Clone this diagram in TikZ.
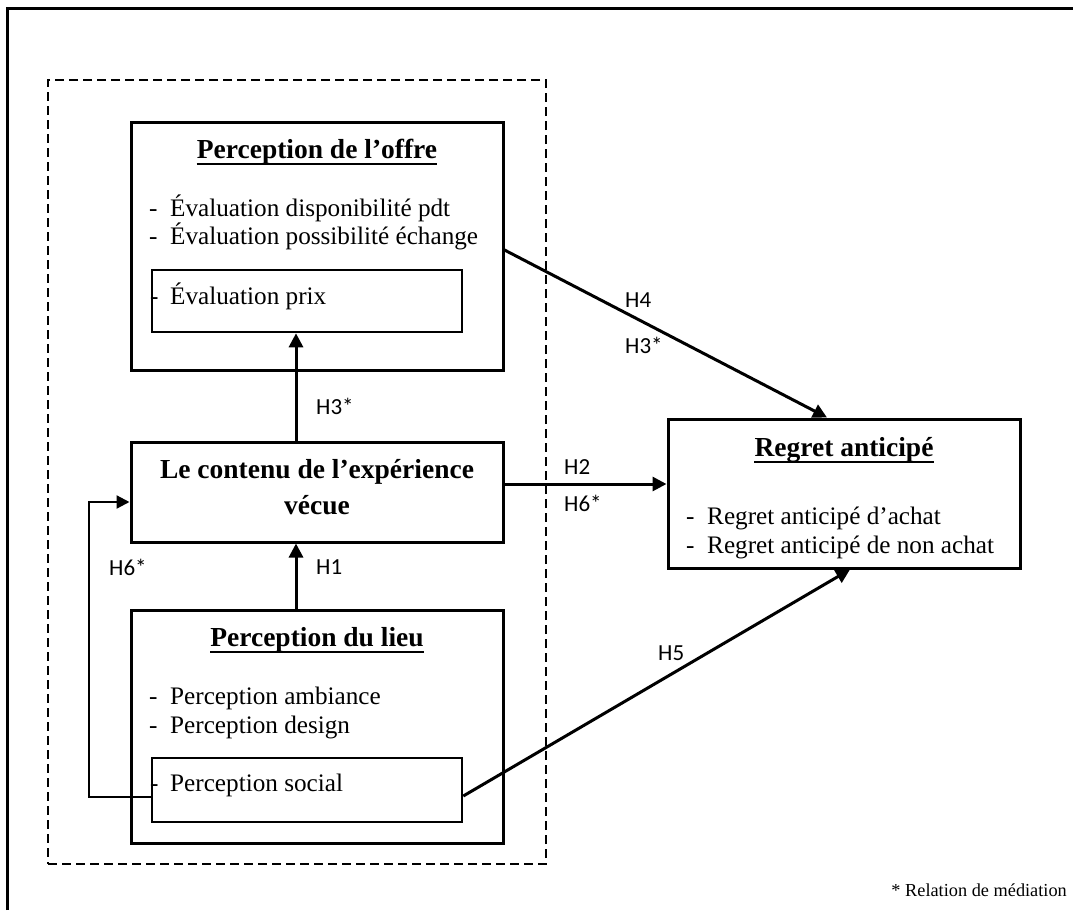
\documentclass[tikz,border=0pt]{standalone}
\usepackage{fontspec}
\setmainfont{Liberation Serif}
\newfontfamily\labfont{Carlito}
\usetikzlibrary{arrows.meta}
\begin{document}
\begin{tikzpicture}[x=1pt,y=-1pt,
  box/.style={draw, line width=3pt, inner sep=0pt},
  subbox/.style={draw, line width=2.6pt, inner sep=0pt},
  ttl/.style={font=\fontsize{27.5}{30}\selectfont\bfseries, anchor=base, inner sep=0pt},
  itm/.style={font=\fontsize{25.2}{28}\selectfont, anchor=base west, inner sep=0pt},
  hlab/.style={font=\labfont\fontsize{23}{26}\selectfont, anchor=west, inner sep=0pt},
  arr/.style={line width=3pt, -{Triangle[length=14pt,width=14pt]}},
  fbarr/.style={line width=2.3pt, -{Triangle[length=13pt,width=13pt]}},
  uline/.style={line width=2.2pt},
  grpbox/.style={draw, line width=2.4pt, dash pattern=on 9pt off 5pt, inner sep=0pt}
]
\useasboundingbox (0,0) rectangle (1073,910);
\fill[white] (0,0) rectangle (1073,910);
% outer frame (only left and top visible)
\draw[line width=3pt] (7,910) -- (7,8) -- (1073,8);
% dashed group
\node[grpbox, minimum width=498pt, minimum height=784pt] (grp) at (297,472) {};
% boxes
\node[box, minimum width=372pt, minimum height=248pt] (offre) at (317,246) {};
\node[subbox, minimum width=310pt, minimum height=62pt] (prix) at (307,301) {};
\node[box, minimum width=372pt, minimum height=100pt] (contenu) at (317,492) {};
\node[box, minimum width=372pt, minimum height=233pt] (lieu) at (317,726.5) {};
\node[subbox, minimum width=310pt, minimum height=64pt] (social) at (307,790) {};
\node[box, minimum width=352pt, minimum height=149pt] (regret) at (844,493.5) {};
% titles
\node[ttl] (toffre) at (317,158) {Perception de l’offre};
\draw[uline] ([yshift=-6pt]toffre.base west) -- ([yshift=-6pt]toffre.base east);
\node[ttl] (tlieu) at (317,646) {Perception du lieu};
\draw[uline] ([yshift=-6pt]tlieu.base west) -- ([yshift=-6pt]tlieu.base east);
\node[ttl] (tregret) at (844,456) {Regret anticipé};
\draw[uline] ([yshift=-6pt]tregret.base west) -- ([yshift=-6pt]tregret.base east);
\node[ttl] (tcont1) at (317,478) {Le contenu de l’expérience};
\node[ttl] (tcont2) at (317,514) {vécue};
% items
\node[itm] (io1) at (149,216) {\makebox[21pt][l]{-}Évaluation disponibilité pdt};
\node[itm] (io2) at (149,244) {\makebox[21pt][l]{-}Évaluation possibilité échange};
\node[itm] (io3) at (150,304) {\makebox[20pt][l]{-}Évaluation prix};
\node[itm] (il1) at (149,704) {\makebox[21pt][l]{-}Perception ambiance};
\node[itm] (il2) at (149,733) {\makebox[21pt][l]{-}Perception design};
\node[itm] (il3) at (150,791) {\makebox[20pt][l]{-}Perception social};
\node[itm] (ir1) at (686,524) {\makebox[21pt][l]{-}Regret anticipé d’achat};
\node[itm] (ir2) at (686,553) {\makebox[21pt][l]{-}Regret anticipé de non achat};
% connectors
\coordinate (ax) at (296,0);
\draw[arr] (contenu.north -| ax) -- (prix.south -| ax);
\draw[arr] (lieu.north -| ax) -- (contenu.south -| ax);
\draw[arr] ([yshift=-4pt]offre.east) -- ([xshift=-17pt]regret.north);
\coordinate (h2s) at ([yshift=8pt]contenu.east);
\draw[arr] (h2s) -- (h2s -| regret.west);
\draw[arr] ([yshift=-6pt]social.east) -- ([xshift=6pt]regret.south);
\draw[fbarr] ([yshift=-7pt]social.west) -- ++(-62,0) |- ([yshift=-10pt]contenu.west);
% labels
\node[hlab] (l1) at (316,406) {H3*};
\node[hlab] (l2) at (316,567) {H1};
\node[hlab] (l3) at (109,567) {H6*};
\node[hlab] (l4) at (625,300) {H4};
\node[hlab] (l5) at (625,345) {H3*};
\node[hlab] (l6) at (564,467) {H2};
\node[hlab] (l7) at (564,503) {H6*};
\node[hlab] (l8) at (658,653) {H5};
% footnote
\node[font=\fontsize{18.3}{20}\selectfont, anchor=base east, inner sep=0pt] (foot) at (1067,896) {* Relation de médiation};
\end{tikzpicture}
\end{document}
